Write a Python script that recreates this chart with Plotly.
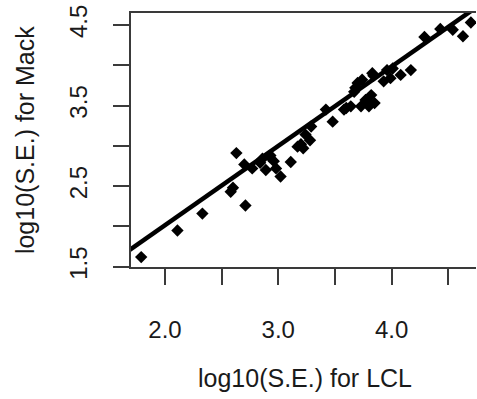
import plotly.graph_objects as go

# Data
lcl = [1.79, 2.11, 2.33, 2.58, 2.60, 2.71, 2.63, 2.70, 2.77, 2.84, 2.89, 2.92, 2.96, 2.98,
       3.02, 3.11, 3.17, 3.22, 3.24, 3.28, 3.29, 3.42, 3.48, 3.58, 3.60, 3.64, 3.67, 3.70,
       3.73, 3.77, 3.79, 3.80, 3.82, 3.85, 3.84, 3.93, 3.96, 3.99, 4.01, 4.08, 4.17, 4.29,
       4.43, 4.54, 4.63, 4.70, 2.86, 2.93, 3.20, 3.68, 3.74, 3.83]
mack = [1.62, 1.95, 2.16, 2.43, 2.48, 2.26, 2.91, 2.77, 2.72, 2.79, 2.70, 2.87, 2.81, 2.72,
        2.62, 2.80, 2.99, 2.97, 3.14, 3.07, 3.24, 3.45, 3.30, 3.45, 3.47, 3.49, 3.67, 3.78,
        3.49, 3.57, 3.55, 3.49, 3.63, 3.53, 3.87, 3.80, 3.94, 3.84, 3.96, 3.88, 3.94, 4.35,
        4.45, 4.44, 4.36, 4.53, 2.84, 2.88, 3.02, 3.72, 3.82, 3.90]

fit_intercept = 0.047
fit_slope = 0.984

x_range = [1.70, 4.745]
y_range = [1.497, 4.648]

x_ticks = [2.0, 2.5, 3.0, 3.5, 4.0, 4.5]
x_ticktext = ["2.0", "", "3.0", "", "4.0", ""]
y_ticks = [1.5, 2.0, 2.5, 3.0, 3.5, 4.0, 4.5]
y_ticktext = ["1.5", "", "2.5", "", "3.5", "", "4.5"]

x_title = "log10(S.E.) for LCL"
y_title = "log10(S.E.) for Mack"

line_x = [x_range[0] - 0.1, x_range[1] + 0.1]
line_y = [fit_intercept + fit_slope * v for v in line_x]

fig = go.Figure()
fig.add_trace(go.Scatter(x=line_x, y=line_y, mode="lines",
                         line=dict(color="black", width=4.5), hoverinfo="skip"))
fig.add_trace(go.Scatter(x=lcl, y=mack, mode="markers",
                         marker=dict(symbol="diamond", size=9.5, color="black",
                                     line=dict(width=0))))

axis_col = "#3a3a3a"
font_family = "Liberation Sans, Arial, sans-serif"

fig.update_layout(
    width=477, height=399,
    margin=dict(l=131, r=1, t=13, b=132),
    paper_bgcolor="white", plot_bgcolor="white",
    showlegend=False,
    font=dict(family=font_family, color="#1a1a1a"),
    xaxis=dict(range=x_range, tickvals=x_ticks, ticktext=x_ticktext,
               showgrid=False, zeroline=False,
               showline=True, mirror=True, linecolor=axis_col, linewidth=2,
               ticks="outside", ticklen=16, tickwidth=2, tickcolor=axis_col,
               tickfont=dict(size=24), ticklabelstandoff=24),
    yaxis=dict(range=y_range, tickvals=y_ticks, ticktext=y_ticktext,
               showgrid=False, zeroline=False,
               showline=True, mirror=False, linecolor=axis_col, linewidth=2,
               ticks="outside", ticklen=16, tickwidth=2, tickcolor=axis_col,
               tickangle=-90, tickfont=dict(size=24), ticklabelstandoff=16),
    annotations=[
        dict(text=x_title, xref="paper", yref="paper", x=0.505, y=-0.437,
             xanchor="center", yanchor="middle", showarrow=False,
             font=dict(size=25, family=font_family, color="#1a1a1a")),
        dict(text=y_title, xref="paper", yref="paper", x=-0.307, y=0.5,
             xanchor="center", yanchor="middle", showarrow=False, textangle=-90,
             font=dict(size=25, family=font_family, color="#1a1a1a")),
    ],
)

fig.write_html("out.html")
